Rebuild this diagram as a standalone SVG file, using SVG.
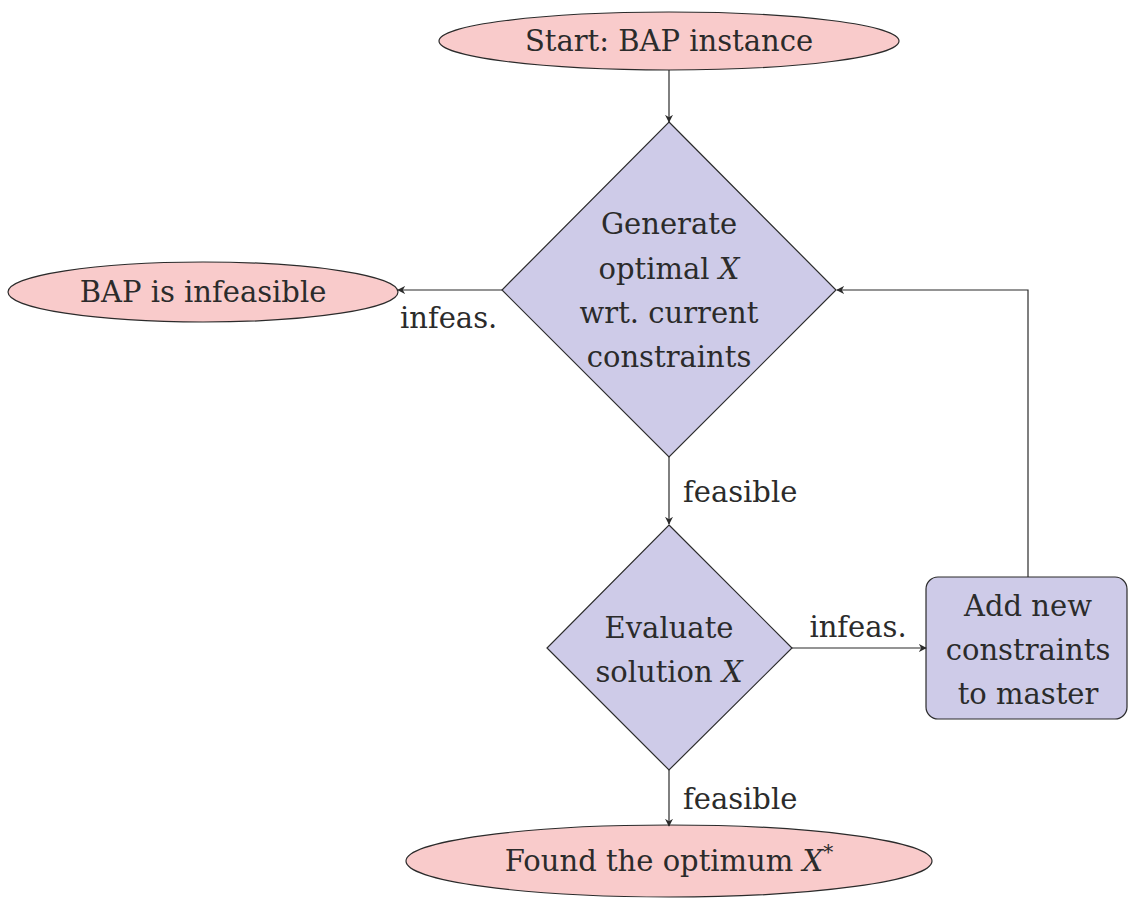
<svg xmlns="http://www.w3.org/2000/svg" width="1128" height="899" viewBox="0 0 1128 899">
  <style>
    .term { fill: #F9CBCB; stroke: #2b2b2b; stroke-width: 1.2; }
    .proc { fill: #CECBE8; stroke: #2b2b2b; stroke-width: 1.2; }
    text { font-family: "DejaVu Serif", serif; font-size: 29px; fill: #2b2b2b; }
    .mid { text-anchor: middle; }
    .it { font-style: italic; }
    .edge { fill: none; stroke: #2b2b2b; stroke-width: 1.2; marker-end: url(#arrow); }
  </style>
  <defs>
    <marker id="arrow" viewBox="0 0 10 10" refX="9" refY="5" markerWidth="8" markerHeight="8" markerUnits="userSpaceOnUse" orient="auto">
      <path d="M0,0 L10,5 L0,10 L3,5 Z" fill="#2b2b2b"/>
    </marker>
  </defs>

  <g id="start">
    <ellipse class="term" cx="669" cy="41" rx="230" ry="29"/>
    <text class="mid" x="669" y="51">Start: BAP instance</text>
  </g>

  <g id="generate">
    <polygon class="proc" points="669,122 836,290 669,457 502,290"/>
    <text class="mid" x="669" y="234">Generate</text>
    <text class="mid" x="669" y="279">optimal <tspan class="it">X</tspan></text>
    <text class="mid" x="669" y="323">wrt. current</text>
    <text class="mid" x="669" y="367">constraints</text>
  </g>

  <g id="infeasible">
    <ellipse class="term" cx="203" cy="292" rx="195" ry="30"/>
    <text class="mid" x="203" y="302">BAP is infeasible</text>
  </g>

  <g id="evaluate">
    <polygon class="proc" points="669,525 792,648 669,770 547,648"/>
    <text class="mid" x="669" y="638">Evaluate</text>
    <text class="mid" x="669" y="682">solution <tspan class="it">X</tspan></text>
  </g>

  <g id="addcuts">
    <rect class="proc" x="926" y="577" width="201" height="142" rx="12" ry="12"/>
    <text class="mid" x="1028" y="616">Add new</text>
    <text class="mid" x="1028" y="660">constraints</text>
    <text class="mid" x="1028" y="704">to master</text>
  </g>

  <g id="optimum">
    <ellipse class="term" cx="669" cy="861" rx="263" ry="36"/>
    <text class="mid" x="669" y="871">Found the optimum <tspan class="it">X</tspan><tspan dy="-12" font-size="20">*</tspan></text>
  </g>

  <g id="connectors">
    <path class="edge" d="M669,70 V122"/>
    <path class="edge" d="M502,290 H398"/>
    <path class="edge" d="M669,457 V524"/>
    <path class="edge" d="M792,648 H926"/>
    <path class="edge" d="M1028,577 V290 H837"/>
    <path class="edge" d="M669,770 V826"/>
    <text x="400" y="328">infeas.</text>
    <text x="683" y="502">feasible</text>
    <text class="mid" x="858" y="637">infeas.</text>
    <text x="683" y="809">feasible</text>
  </g>
</svg>
